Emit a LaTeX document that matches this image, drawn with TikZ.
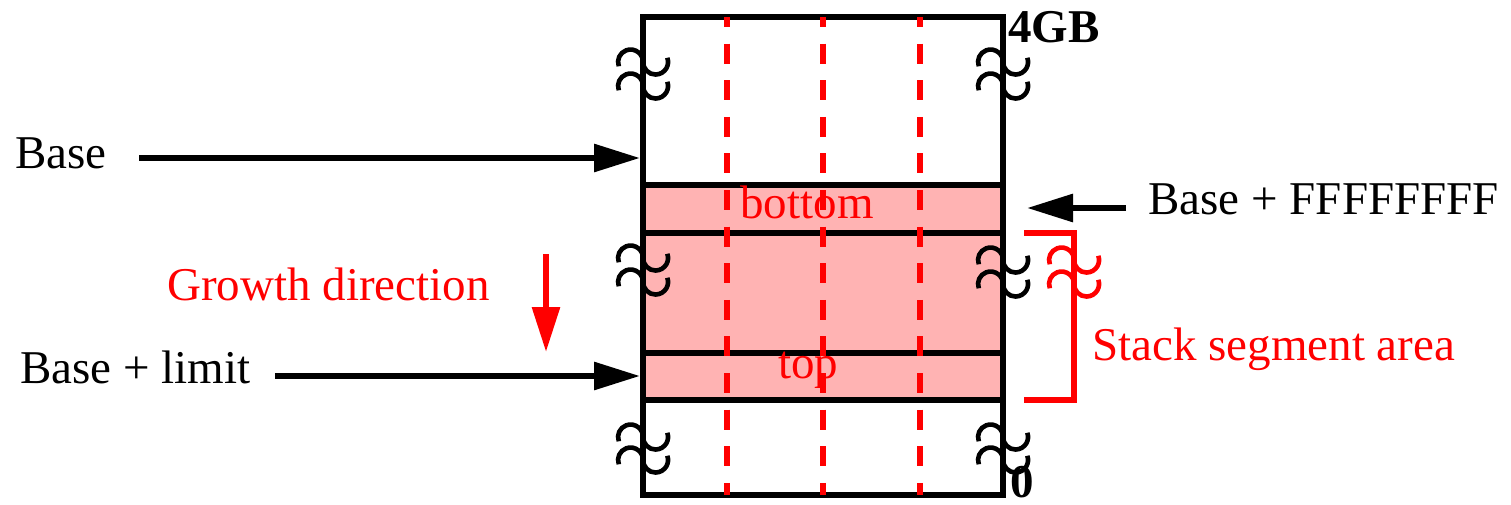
\documentclass[tikz,border=0pt]{standalone}
\usepackage{fontspec}
\setmainfont{Liberation Serif}
\usepackage{xcolor}
\usetikzlibrary{arrows.meta,positioning}
\definecolor{stackpink}{RGB}{255,179,179}

\begin{document}
\begin{tikzpicture}[
  x=0.5pt,y=-0.5pt,
  >={Triangle[length=23pt,width=13.5pt]},
  every node/.style={inner sep=0pt,anchor=base west,font=\fontsize{23.5}{28}\selectfont},
  frame/.style={line width=2.8pt},
  guide/.style={red,line width=2.8pt,dash pattern=on 10pt off 8.3pt,dash phase=5pt},
  wiggle/.style={line width=2.3pt},
  pointer/.style={->,line width=3pt},
  red label/.style={text=red},
  bold label/.style={font=\fontsize{23.5}{28}\selectfont\bfseries}
  ]
  \useasboundingbox (0,0) rectangle (1511,504);
  % memory column
  \coordinate (col top) at (643,17);
  \coordinate (col bot) at (1003,495);
  \fill[stackpink] (643,185) rectangle (1003,400);
  \draw[frame] (col top) rectangle (col bot);
  \foreach \y in {185,233,353,400}
    \draw[frame] (643,\y) -- (1003,\y);
  \foreach \x in {727,823,920}
    \draw[guide] (\x,17) -- (\x,495);
  % breaks
  \foreach \x/\y in {643/62,643/86,643/258,643/282,643/437,643/460,
                     1003/62,1003/86,1003/260,1003/284,1003/437,1003/460}
    \draw[wiggle] (\x-24.2,\y+4.3) arc[start angle=160,end angle=360,radius=12.5]
      arc[start angle=180,end angle=-20,radius=12.5];
  % labels
  \node[bold label] (high) at (1008,42) {4GB};
  \node[bold label] (low) at (1010,497) {0};
  \node[red label] (bottom) at (740,218) {bottom};
  \node[red label] (top) at (778,378) {top};
  \node (base) at (15,168) {Base};
  \node (limit) at (20,383) {Base + limit};
  \node (max) at (1148,214) {Base + FFFFFFFF};
  \node[red label] (growth) at (167,300) {Growth direction};
  \node[red label] (stack) at (1092,360) {Stack segment area};
  % pointers
  \coordinate (base tip) at (640,158);
  \coordinate (limit tip) at (640,376);
  \coordinate (max tip) at (1027,208);
  \draw[pointer] ([xshift=16pt]base.east |- base tip) -- (base tip);
  \draw[pointer] ([xshift=12pt]limit.east |- limit tip) -- (limit tip);
  \draw[pointer] ([xshift=-11pt]max.west |- max tip) -- (max tip);
  \coordinate (grow start) at (546,254);
  \coordinate (grow end) at (546,352);
  \draw[pointer,red,>={Triangle[length=22.5pt,width=13.5pt]}] (grow start) -- (grow end);
  % stack bracket
  \coordinate (brace top) at (1024,233);
  \coordinate (brace bot) at (1024,400);
  \draw[red,line width=2.8pt] (brace top) -| (1074,400) -- (brace bot);
  \foreach \y in {260,284}
    \draw[wiggle,red] (1074-24.2,\y+4.3) arc[start angle=160,end angle=360,radius=12.5]
      arc[start angle=180,end angle=-20,radius=12.5];
\end{tikzpicture}
\end{document}
